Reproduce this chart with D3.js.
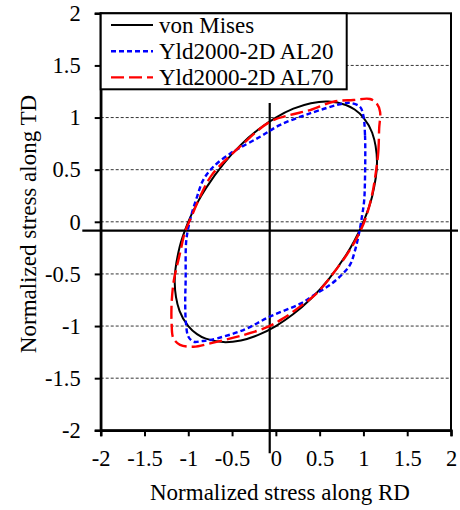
<!DOCTYPE html>
<html>
<head>
<meta charset="utf-8">
<script src="https://cdn.jsdelivr.net/npm/d3@7"></script>
<style>
  body { margin: 0; background: #fff; }
  svg text { font-family: "Liberation Serif", "Times New Roman", serif; }
</style>
</head>
<body>
<svg id="chart"></svg>
<script>
// tick values
const xTicks = [-2, -1.5, -1, -0.5, 0, 0.5, 1, 1.5, 2];
const yTicks = [-2, -1.5, -1, -0.5, 0, 0.5, 1, 1.5, 2];
const gridValues = [-1.5, -1, -0.5, 0, 0.5, 1, 1.5];

// series, [RD, TD], counter-clockwise
const vonMises = [
  [1.155, 0.577], [1.1, 0.854], [1, 1], [0.9, 1.077], [0.8, 1.121], [0.6, 1.154],
  [0.4, 1.138], [0.2, 1.085], [0, 1], [-0.2, 0.885], [-0.4, 0.738], [-0.6, 0.554],
  [-0.8, 0.321], [-0.9, 0.177], [-1, 0], [-1.1, -0.246], [-1.155, -0.577],
  [-1.1, -0.854], [-1, -1], [-0.9, -1.077], [-0.8, -1.121], [-0.6, -1.154],
  [-0.4, -1.138], [-0.2, -1.085], [0, -1], [0.2, -0.885], [0.4, -0.738],
  [0.6, -0.554], [0.8, -0.321], [0.9, -0.177], [1, 0], [1.1, 0.246]
];
const al20 = [
  [1.018, 0.417], [1.018, 0.833], [0.998, 1.024], [0.96, 1.104], [0.85, 1.14],
  [0.77, 1.135], [0.39, 1.04], [0.05, 0.93], [-0.18, 0.816], [-0.41, 0.71],
  [-0.52, 0.655], [-0.714, 0.528], [-0.83, 0.4], [-0.9, 0.24], [-0.96, 0.08],
  [-1.0, -0.06], [-1.025, -0.2], [-1.03, -0.56], [-1.035, -0.78], [-1.026, -0.974],
  [-1.0, -1.1], [-0.94, -1.15], [-0.85, -1.145], [-0.75, -1.134], [-0.37, -1.038],
  [-0.07, -0.91], [0.28, -0.785], [0.466, -0.686], [0.618, -0.606], [0.75, -0.51],
  [0.846, -0.414], [0.9, -0.287], [0.95, -0.11], [0.985, 0.06], [1.008, 0.2]
];
const al70 = [
  [1.143, 0.48], [1.17, 0.672], [1.18, 0.897], [1.19, 1.056], [1.15, 1.137],
  [1.075, 1.178], [0.885, 1.168], [0.656, 1.152], [0.39, 1.072], [0.16, 1.024],
  [-0.067, 0.96], [-0.41, 0.72], [-0.73, 0.45], [-0.866, 0.24], [-0.98, 0.017],
  [-1.037, -0.095], [-1.094, -0.3], [-1.15, -0.5], [-1.17, -0.59], [-1.19, -0.78],
  [-1.19, -0.974], [-1.17, -1.118], [-1.094, -1.18], [-0.94, -1.198], [-0.75, -1.166],
  [-0.37, -1.086], [-0.086, -1.006], [0.085, -0.926], [0.276, -0.814], [0.466, -0.686],
  [0.656, -0.494], [0.846, -0.27], [0.96, -0.095], [1.018, 0.017], [1.094, 0.24]
];

const seriesNames = ["von Mises", "Yld2000-2D AL20", "Yld2000-2D AL70"];

const W = 460, H = 510;
const plotL = 100.7, plotR = 451, plotT = 13.3, plotB = 430.3;

const svg = d3.select("#chart").attr("width", W).attr("height", H);

const x = d3.scaleLinear().domain([-2, 2]).range([plotL, plotR]);
const y = d3.scaleLinear().domain([-2, 2]).range([plotB, plotT]);

// dashed grid lines
svg.append("g")
  .selectAll("line")
  .data(gridValues)
  .enter()
  .append("line")
  .attr("x1", plotL)
  .attr("x2", plotR)
  .attr("y1", (d) => y(d))
  .attr("y2", (d) => y(d))
  .attr("stroke", "#000")
  .attr("stroke-width", 0.8)
  .attr("stroke-dasharray", "3,2");

// crossing lines (sit a bit off the origin in the original)
const crossX = -0.07, crossY = -0.085;
svg.append("line")
  .attr("x1", x(-2.21)).attr("x2", x(2.08))
  .attr("y1", y(crossY)).attr("y2", y(crossY))
  .attr("stroke", "#000").attr("stroke-width", 2.2);
svg.append("line")
  .attr("x1", x(crossX)).attr("x2", x(crossX))
  .attr("y1", y(1.14)).attr("y2", y(-2.22))
  .attr("stroke", "#000").attr("stroke-width", 2.2);

// frame
svg.append("rect")
  .attr("x", plotL).attr("y", plotT)
  .attr("width", plotR - plotL).attr("height", plotB - plotT)
  .attr("fill", "none").attr("stroke", "#000").attr("stroke-width", 2);

const fs = 22.5;

const yAxis = svg.append("g")
  .attr("transform", `translate(${plotL},0)`)
  .call(d3.axisLeft(y).tickValues(yTicks).tickSize(6).tickPadding(14).tickFormat((d) => String(d)));
const xAxis = svg.append("g")
  .attr("transform", `translate(0,${plotB})`)
  .call(d3.axisBottom(x).tickValues(xTicks).tickSize(6).tickPadding(14).tickFormat((d) => String(d)));

[xAxis, yAxis].forEach((a) => {
  a.attr("font-family", '"Liberation Serif", "Times New Roman", serif').attr("font-size", fs);
  a.select(".domain").attr("stroke", "#000").attr("stroke-width", 2.5);
  a.selectAll(".tick line").attr("stroke", "#000").attr("stroke-width", 2);
  a.selectAll(".tick text")
    .attr("fill", "#000")
    .style("font-family", '"Liberation Serif", "Times New Roman", serif')
    .style("font-size", fs + "px");
});

// curves
const line = d3.line()
  .x((d) => x(d[0]))
  .y((d) => y(d[1]))
  .curve(d3.curveCatmullRomClosed.alpha(0.5));

const styles = [
  { data: vonMises, color: "#000", width: 2, dash: null },
  { data: al20, color: "#0000ff", width: 2.4, dash: "5,3" },
  { data: al70, color: "#ff0000", width: 2.4, dash: "13,5" }
];

svg.append("g")
  .selectAll("path")
  .data(styles)
  .enter()
  .append("path")
  .attr("d", (d) => line(d.data))
  .attr("fill", "none")
  .attr("stroke", (d) => d.color)
  .attr("stroke-width", (d) => d.width)
  .attr("stroke-dasharray", (d) => d.dash);

// legend
const lg = svg.append("g");
lg.append("rect")
  .attr("x", plotL).attr("y", plotT)
  .attr("width", 246).attr("height", 76)
  .attr("fill", "#fff").attr("stroke", "#000").attr("stroke-width", 2);

styles.forEach((s, i) => {
  const ly = 25 + i * 26.2;
  lg.append("line")
    .attr("x1", 111).attr("x2", 153)
    .attr("y1", ly).attr("y2", ly)
    .attr("stroke", s.color)
    .attr("stroke-width", s.width)
    .attr("stroke-dasharray", s.dash);
  lg.append("text")
    .attr("x", 159).attr("y", ly + 8)
    .style("font-size", "23px")
    .text(seriesNames[i]);
});

// axis titles
svg.append("text")
  .attr("x", 280).attr("y", 500)
  .attr("text-anchor", "middle")
  .style("font-size", "23px")
  .text("Normalized stress along RD");

svg.append("text")
  .attr("transform", "translate(36,224) rotate(-90)")
  .attr("text-anchor", "middle")
  .style("font-size", "23px")
  .text("Normalized stress along TD");
</script>
</body>
</html>
